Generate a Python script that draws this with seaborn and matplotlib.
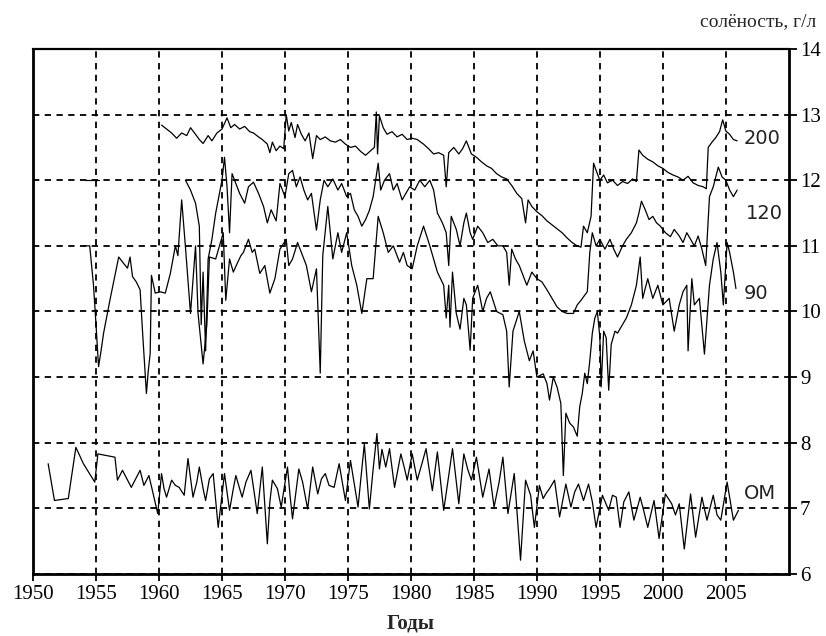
import numpy as np
import pandas as pd
import matplotlib
matplotlib.use("Agg")
import matplotlib.pyplot as plt
import seaborn as sns

# ---------------- data ----------------
years_200 = [1960.2, 1960.6, 1961.0, 1961.4, 1961.8, 1962.2, 1962.5, 1962.9, 1963.2, 1963.5,
             1963.9, 1964.2, 1964.6, 1965.0, 1965.4, 1965.7, 1966.0, 1966.4, 1966.8, 1967.2,
             1967.5, 1967.9, 1968.2, 1968.6, 1968.8, 1969.0, 1969.3, 1969.6, 1969.9, 1970.1,
             1970.3, 1970.5, 1970.8, 1971.0, 1971.3, 1971.6, 1971.9, 1972.2, 1972.5, 1972.8,
             1973.2, 1973.6, 1974.0, 1974.4, 1974.8, 1975.2, 1975.6, 1976.0, 1976.4, 1976.8,
             1977.1, 1977.25, 1977.35, 1977.5, 1977.8, 1978.1, 1978.5, 1978.9, 1979.3, 1979.7,
             1980.1, 1980.5, 1981.0, 1981.4, 1981.8, 1982.2, 1982.6, 1982.8, 1983.0, 1983.4,
             1983.8, 1984.1, 1984.4, 1984.8, 1985.2, 1985.6, 1986.0, 1986.4, 1986.8, 1987.2,
             1987.6, 1988.0, 1988.4, 1988.8, 1989.1, 1989.3, 1989.6, 1990.0, 1990.4, 1990.8,
             1991.2, 1991.6, 1992.0, 1992.4, 1992.8, 1993.2, 1993.5, 1993.7, 1994.0, 1994.3,
             1994.5, 1994.7, 1995.0, 1995.3, 1995.6, 1996.0, 1996.4, 1996.8, 1997.2, 1997.6,
             1997.9, 1998.1, 1998.4, 1998.8, 1999.2, 1999.6, 2000.0, 2000.4, 2000.8, 2001.2,
             2001.6, 2002.0, 2002.4, 2002.8, 2003.2, 2003.45, 2003.6, 2003.9, 2004.2, 2004.5,
             2004.75, 2005.0, 2005.3, 2005.6, 2005.9]
sal_200 = [12.84, 12.78, 12.72, 12.64, 12.72, 12.68, 12.80, 12.70, 12.62, 12.56,
           12.68, 12.60, 12.72, 12.78, 12.95, 12.80, 12.85, 12.78, 12.82, 12.74,
           12.72, 12.66, 12.62, 12.55, 12.42, 12.58, 12.45, 12.52, 12.48, 13.00,
           12.75, 12.88, 12.65, 12.85, 12.70, 12.60, 12.72, 12.33, 12.68, 12.62,
           12.66, 12.60, 12.58, 12.62, 12.55, 12.50, 12.52, 12.44, 12.38, 12.45,
           12.50, 13.04, 12.40, 12.98, 12.80, 12.70, 12.74, 12.66, 12.70, 12.62,
           12.64, 12.62, 12.55, 12.48, 12.40, 12.42, 12.38, 11.90, 12.42, 12.50,
           12.40, 12.48, 12.60, 12.40, 12.35, 12.28, 12.22, 12.18, 12.10, 12.05,
           12.02, 11.92, 11.80, 11.72, 11.35, 11.70, 11.60, 11.52, 11.46, 11.38,
           11.32, 11.26, 11.20, 11.12, 11.05, 11.00, 10.98, 11.30, 11.20, 11.45,
           12.26, 12.15, 12.00, 12.08, 11.96, 12.00, 11.92, 11.98, 11.95, 12.02,
           11.98, 12.46, 12.38, 12.32, 12.28, 12.22, 12.18, 12.12, 12.08, 12.05,
           12.00, 12.06, 11.96, 11.92, 11.90, 11.87, 12.50, 12.58, 12.65, 12.74,
           12.92, 12.75, 12.70, 12.62, 12.60]

years_120_early = [1954.1, 1955.2]
sal_120_early = [12.0, 12.0]

years_120 = [1962.1, 1962.5, 1962.9, 1963.2, 1963.35, 1963.5, 1963.7, 1963.9, 1964.2, 1964.5,
             1964.8, 1965.0, 1965.2, 1965.4, 1965.6, 1965.8, 1966.1, 1966.4, 1966.8, 1967.1,
             1967.5, 1967.9, 1968.3, 1968.6, 1968.9, 1969.3, 1969.6, 1970.0, 1970.3, 1970.6,
             1970.9, 1971.2, 1971.5, 1971.8, 1972.1, 1972.5, 1972.8, 1973.1, 1973.4, 1973.8,
             1974.2, 1974.5, 1974.9, 1975.2, 1975.5, 1975.8, 1976.1, 1976.4, 1976.7, 1977.0,
             1977.4, 1977.6, 1977.9, 1978.3, 1978.6, 1978.9, 1979.3, 1979.6, 1979.9, 1980.3,
             1980.7, 1981.1, 1981.5, 1981.8, 1982.1, 1982.5, 1982.8, 1983.0, 1983.2, 1983.6,
             1983.9, 1984.2, 1984.4, 1984.7, 1984.9, 1985.3, 1985.7, 1986.1, 1986.5, 1986.9,
             1987.3, 1987.6, 1987.8, 1988.0, 1988.3, 1988.6, 1988.9, 1989.2, 1989.6, 1990.0,
             1990.4, 1990.8, 1991.2, 1991.6, 1992.0, 1992.4, 1992.9, 1993.2, 1993.5, 1993.8,
             1994.0, 1994.2, 1994.4, 1994.7, 1995.0, 1995.4, 1995.8, 1996.1, 1996.4, 1996.8,
             1997.1, 1997.5, 1997.9, 1998.1, 1998.3, 1998.6, 1998.9, 1999.2, 1999.5, 1999.8,
             2000.2, 2000.6, 2000.9, 2001.3, 2001.6, 2001.9, 2002.2, 2002.5, 2002.8, 2003.1,
             2003.4, 2003.7, 2004.0, 2004.4, 2004.7, 2005.0, 2005.3, 2005.6, 2005.9]
sal_120 = [12.00, 11.85, 11.65, 11.30, 9.80, 10.60, 9.40, 10.80, 11.10, 11.50,
           11.80, 12.00, 12.35, 11.90, 11.20, 12.10, 11.95, 11.80, 11.65, 11.90,
           11.97, 11.80, 11.60, 11.35, 11.55, 11.38, 11.95, 11.75, 12.10, 12.15,
           11.90, 12.05, 11.85, 11.70, 11.80, 11.24, 11.70, 12.00, 11.90, 12.02,
           11.85, 11.95, 11.75, 11.80, 11.55, 11.45, 11.30, 11.40, 11.54, 11.75,
           12.26, 11.85, 12.00, 12.10, 11.85, 11.95, 11.70, 11.80, 11.90, 11.85,
           12.00, 11.90, 12.00, 11.85, 11.50, 11.35, 11.20, 10.70, 11.45, 11.25,
           11.00, 11.35, 11.50, 11.20, 11.10, 11.30, 11.20, 11.05, 11.10, 11.00,
           11.00, 10.90, 10.40, 10.95, 10.80, 10.70, 10.55, 10.40, 10.60, 10.50,
           10.45, 10.33, 10.20, 10.07, 10.00, 9.97, 9.97, 10.10, 10.17, 10.25,
           10.30, 10.90, 11.20, 11.00, 11.10, 10.95, 11.10, 10.95, 10.83, 11.00,
           11.10, 11.20, 11.35, 11.50, 11.68, 11.55, 11.40, 11.45, 11.35, 11.30,
           11.20, 11.14, 11.25, 11.15, 11.05, 11.20, 11.10, 11.00, 11.15, 10.95,
           10.70, 11.75, 11.90, 12.20, 12.05, 12.00, 11.85, 11.75, 11.85]

years_90 = [1954.0, 1954.5, 1954.8, 1955.0, 1955.2, 1955.4, 1955.6, 1956.1, 1956.5, 1956.8,
            1957.2, 1957.5, 1957.7, 1957.9, 1958.2, 1958.5, 1958.7, 1959.0, 1959.15, 1959.3,
            1959.4, 1959.7, 1960.1, 1960.5, 1960.9, 1961.3, 1961.5, 1961.8, 1962.1, 1962.5,
            1962.9, 1963.1, 1963.5, 1963.8, 1964.0, 1964.5, 1964.8, 1965.1, 1965.3, 1965.6,
            1965.9, 1966.2, 1966.5, 1966.7, 1967.1, 1967.4, 1967.6, 1968.0, 1968.4, 1968.8,
            1969.2, 1969.6, 1970.1, 1970.3, 1970.6, 1971.0, 1971.2, 1971.7, 1972.1, 1972.5,
            1972.8, 1973.0, 1973.4, 1973.8, 1974.2, 1974.5, 1974.9, 1975.3, 1975.7, 1976.1,
            1976.5, 1977.0, 1977.4, 1977.8, 1978.2, 1978.6, 1979.1, 1979.4, 1979.7, 1980.1,
            1980.5, 1981.0, 1981.5, 1982.1, 1982.6, 1982.8, 1983.0, 1983.1, 1983.3, 1983.6,
            1983.9, 1984.2, 1984.4, 1984.7, 1984.9, 1985.3, 1985.7, 1986.0, 1986.3, 1986.8,
            1987.3, 1987.6, 1987.8, 1988.1, 1988.6, 1989.0, 1989.4, 1989.7, 1990.0, 1990.5,
            1990.8, 1991.0, 1991.3, 1991.6, 1991.9, 1992.1, 1992.3, 1992.6, 1992.9, 1993.2,
            1993.4, 1993.6, 1993.8, 1994.0, 1994.2, 1994.4, 1994.6, 1994.8, 1995.0, 1995.1,
            1995.3, 1995.5, 1995.7, 1995.9, 1996.2, 1996.4, 1996.8, 1997.1, 1997.5, 1997.9,
            1998.2, 1998.4, 1998.8, 1999.2, 1999.6, 2000.0, 2000.5, 2000.9, 2001.3, 2001.6,
            2001.9, 2002.0, 2002.3, 2002.5, 2002.9, 2003.3, 2003.7, 2004.0, 2004.3, 2004.6,
            2004.8, 2005.1, 2005.3, 2005.6, 2005.8]
sal_90 = [11.00, 11.00, 10.40, 9.80, 9.16, 9.40, 9.67, 10.17, 10.55, 10.83,
          10.73, 10.66, 10.83, 10.53, 10.45, 10.33, 9.67, 8.75, 9.10, 9.36,
          10.55, 10.28, 10.30, 10.28, 10.58, 11.00, 10.85, 11.70, 10.98, 9.97,
          11.00, 9.97, 9.20, 9.80, 10.83, 10.80, 11.00, 11.20, 10.17, 10.80,
          10.60, 10.73, 10.85, 10.90, 11.10, 10.90, 10.95, 10.58, 10.70, 10.28,
          10.50, 10.95, 11.10, 10.70, 10.80, 11.05, 10.95, 10.70, 10.30, 10.65,
          9.06, 10.85, 11.60, 10.80, 11.20, 10.90, 11.20, 10.70, 10.40, 9.97,
          10.50, 10.50, 11.45, 11.20, 10.90, 11.00, 10.75, 10.90, 10.70, 10.65,
          11.00, 11.30, 11.00, 10.60, 10.40, 9.90, 10.40, 9.76, 10.60, 9.97,
          9.73, 10.20, 10.10, 9.41, 10.20, 10.40, 10.00, 10.20, 10.30, 10.00,
          9.95, 9.70, 8.85, 9.70, 10.00, 9.55, 9.25, 9.40, 9.00, 9.05,
          8.90, 8.65, 9.00, 8.85, 8.60, 7.50, 8.45, 8.30, 8.24, 8.10,
          8.55, 8.75, 9.06, 8.90, 9.25, 9.67, 9.90, 10.00, 9.60, 8.85,
          9.70, 9.60, 8.80, 9.50, 9.70, 9.67, 9.80, 9.90, 10.10, 10.40,
          10.83, 10.20, 10.50, 10.20, 10.40, 10.10, 10.20, 9.70, 10.10, 10.30,
          10.40, 9.40, 10.50, 10.10, 10.20, 9.35, 10.40, 10.80, 11.05, 10.60,
          10.10, 11.05, 10.90, 10.60, 10.35]

years_0 = [1951.2, 1951.7, 1952.8, 1953.4, 1954.0, 1954.9, 1955.15, 1956.5, 1956.7, 1957.1,
           1957.8, 1958.5, 1958.8, 1959.2, 1959.9, 1960.2, 1960.4, 1960.6, 1961.0, 1961.3,
           1961.6, 1962.0, 1962.3, 1962.7, 1963.0, 1963.2, 1963.5, 1963.7, 1964.0, 1964.3,
           1964.7, 1965.0, 1965.2, 1965.6, 1965.9, 1966.1, 1966.6, 1966.9, 1967.3, 1967.8,
           1968.2, 1968.6, 1968.8, 1969.0, 1969.4, 1969.7, 1970.2, 1970.4, 1970.6, 1971.1,
           1971.4, 1971.8, 1972.2, 1972.6, 1972.9, 1973.2, 1973.5, 1973.9, 1974.3, 1974.8,
           1975.2, 1975.8, 1976.3, 1976.7, 1977.0, 1977.3, 1977.5, 1977.7, 1978.0, 1978.3,
           1978.7, 1979.2, 1979.5, 1979.7, 1980.1, 1980.5, 1980.9, 1981.2, 1981.7, 1982.1,
           1982.6, 1983.0, 1983.3, 1983.8, 1984.2, 1984.5, 1984.8, 1985.2, 1985.7, 1986.2,
           1986.6, 1987.0, 1987.3, 1987.7, 1988.2, 1988.7, 1989.1, 1989.5, 1989.8, 1990.2,
           1990.5, 1990.7, 1991.0, 1991.4, 1991.8, 1992.3, 1992.7, 1993.0, 1993.3, 1993.7,
           1994.1, 1994.4, 1994.7, 1995.2, 1995.7, 1996.0, 1996.3, 1996.6, 1996.9, 1997.3,
           1997.7, 1998.2, 1998.5, 1998.8, 1999.3, 1999.7, 2000.2, 2000.7, 2001.0, 2001.3,
           2001.7, 2002.2, 2002.6, 2003.1, 2003.5, 2004.0, 2004.3, 2004.6, 2005.1, 2005.6,
           2006.0]
sal_0 = [7.68, 7.12, 7.15, 7.93, 7.68, 7.40, 7.83, 7.78, 7.43, 7.58,
         7.32, 7.58, 7.35, 7.50, 6.92, 7.53, 7.30, 7.17, 7.43, 7.35,
         7.32, 7.20, 7.76, 7.17, 7.40, 7.63, 7.30, 7.12, 7.45, 7.53,
         6.71, 7.20, 7.53, 6.97, 7.30, 7.50, 7.17, 7.40, 7.58, 6.92,
         7.63, 6.46, 7.10, 7.43, 7.30, 7.02, 7.63, 7.20, 6.84, 7.60,
         7.40, 6.99, 7.63, 7.22, 7.45, 7.53, 7.35, 7.32, 7.68, 7.12,
         7.73, 7.02, 7.98, 6.99, 7.60, 8.14, 7.60, 7.90, 7.63, 7.91,
         7.32, 7.83, 7.60, 7.43, 7.83, 7.43, 7.70, 7.91, 7.27, 7.86,
         6.97, 7.50, 7.91, 7.07, 7.83, 7.60, 7.43, 7.78, 7.17, 7.60,
         7.02, 7.40, 7.78, 6.92, 7.53, 6.21, 7.43, 7.20, 6.71, 7.35,
         7.15, 7.22, 7.30, 7.43, 6.87, 7.37, 7.02, 7.25, 7.37, 7.12,
         7.37, 7.10, 6.71, 7.20, 6.97, 7.20, 7.17, 6.71, 7.10, 7.25,
         6.82, 7.17, 6.95, 6.71, 7.12, 6.54, 7.22, 7.07, 6.90, 7.07,
         6.38, 7.22, 6.56, 7.17, 6.82, 7.20, 6.90, 6.82, 7.40, 6.82,
         6.97]

series_labels = ["200", "120", "90", "ОМ"]
x_ticks = [1950, 1955, 1960, 1965, 1970, 1975, 1980, 1985, 1990, 1995, 2000, 2005]
y_ticks = [6, 7, 8, 9, 10, 11, 12, 13, 14]

# ---------------- figure ----------------
sns.set_style("white")
plt.rcParams['font.family'] = ['Liberation Serif', 'DejaVu Serif']

fig = plt.figure(figsize=(8.26, 6.36), dpi=100)
ax = fig.add_axes([0.040, 0.0975, 0.915, 0.8255])

segments = [
    (years_200, sal_200),
    (years_120_early, sal_120_early),
    (years_120, sal_120),
    (years_90, sal_90),
    (years_0, sal_0),
]
for xs, ys in segments:
    df = pd.DataFrame({"year": xs, "sal": ys})
    sns.lineplot(data=df, x="year", y="sal", color="black", lw=0.9,
                 estimator=None, sort=False, ax=ax)

ax.set_xlim(1950, 2010)
ax.set_ylim(6, 14)
ax.set_xticks(x_ticks)
ax.set_yticks(y_ticks)
ax.set_xlabel("")
ax.set_ylabel("")
ax.yaxis.tick_right()
ax.tick_params(axis='x', direction='out', length=5, width=1.3, pad=3,
               labelsize=15, colors='black', bottom=True)
ax.tick_params(axis='y', direction='out', length=6, width=1.3, pad=2,
               labelsize=15, colors='black', right=True, left=False)

ax.grid(True, color='black', lw=1.3, ls=(0, (3.5, 3)))
ax.set_axisbelow(True)
for side in ['left', 'bottom', 'right']:
    ax.spines[side].set_linewidth(2.0)
    ax.spines[side].set_color('black')
ax.spines['top'].set_linewidth(1.6)
ax.spines['top'].set_color('black')

# series labels
label_pos = [(2006.4, 12.63), (2006.6, 11.5), (2006.4, 10.28), (2006.4, 7.22)]
for (lx, ly), txt in zip(label_pos, series_labels):
    ax.text(lx, ly, txt, ha='left', va='center', fontsize=14,
            family=['DejaVu Sans'], color='#222222')

fig.text(0.988, 0.966, "солёность, г/л", ha='right', va='center', fontsize=14)
fig.text(0.497, 0.020, "Годы", ha='center', va='center', fontsize=15, fontweight='bold')

fig.savefig("out.png", dpi=100, facecolor='white')
